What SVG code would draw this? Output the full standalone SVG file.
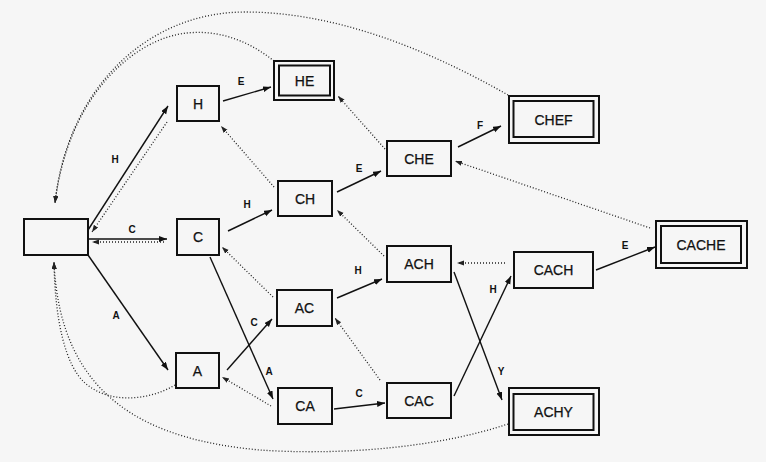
<svg xmlns="http://www.w3.org/2000/svg" width="766" height="462" viewBox="0 0 766 462">
<defs>
<marker id="ah" markerUnits="userSpaceOnUse" markerWidth="9" markerHeight="7" refX="8" refY="3" orient="auto"><path d="M0,0 L8,3 L0,6 z" fill="#111"/></marker>
<marker id="ahd" markerUnits="userSpaceOnUse" markerWidth="8" markerHeight="6" refX="7" refY="2.5" orient="auto"><path d="M0,0 L7,2.5 L0,5 z" fill="#222"/></marker>
<style>
.n{fill:none;stroke:#111;stroke-width:2}
.nt{font-family:"Liberation Sans",Arial,sans-serif;font-size:14px;fill:#111;text-anchor:middle;stroke:#111;stroke-width:0.25}
.s{fill:none;stroke:#111;stroke-width:1.4;marker-end:url(#ah)}
.d{fill:none;stroke:#222;stroke-width:1.3;stroke-dasharray:1 2;marker-end:url(#ahd)}
.l{font-family:"Liberation Sans",Arial,sans-serif;font-size:10px;font-weight:bold;fill:#111;text-anchor:middle}
</style>
</defs>
<rect width="766" height="462" fill="#f6f6f6"/>
<g id="connectors">
<path class="s" d="M88,230 L168,106"/>
<path class="s" d="M88,239 L167,239"/>
<path class="s" d="M88,255 L168,370"/>
<path class="s" d="M223,101 L271,87"/>
<path class="s" d="M228,231 L272,210"/>
<path class="s" d="M337,192 L381,171"/>
<path class="s" d="M458,147 L501,126"/>
<path class="s" d="M337,298 L382,279"/>
<path class="s" d="M596,270 L655,247"/>
<path class="s" d="M454,272 L502,400"/>
<path class="s" d="M454,396 L511,276"/>
<path class="s" d="M210,257 L273,399"/>
<path class="s" d="M227,370 L272,319"/>
<path class="s" d="M334,409 L385,403"/>
<path class="d" d="M167,122 L92,232"/>
<path class="d" d="M164,242 L92,242"/>
<path class="d" d="M274,187 L221,126"/>
<path class="d" d="M385,149 L338,96"/>
<path class="d" d="M650,228 L455,161"/>
<path class="d" d="M384,256 L337,210"/>
<path class="d" d="M273,297 L222,247"/>
<path class="d" d="M505,263 L457,263"/>
<path class="d" d="M271,406 L222,377"/>
<path class="d" d="M380,380 L335,318"/>
<path class="d" d="M508,95 C420,45 330,12 245,12 C150,12 68,85 55,203"/>
<path class="d" d="M274,61 C245,38 215,30 187,33 C135,38 68,95 55,203"/>
<path class="d" d="M508,424 C430,450 330,455 260,450 C150,440 60,400 54,262"/>
<path class="d" d="M175,385 C150,400 110,405 85,383 C65,365 55,320 54,262"/>
<text class="l" x="115" y="163">H</text>
<text class="l" x="132" y="233">C</text>
<text class="l" x="116" y="319">A</text>
<text class="l" x="241" y="85">E</text>
<text class="l" x="247" y="208">H</text>
<text class="l" x="359" y="172">E</text>
<text class="l" x="480" y="129">F</text>
<text class="l" x="358" y="274">H</text>
<text class="l" x="625" y="249">E</text>
<text class="l" x="501" y="375">Y</text>
<text class="l" x="493" y="293">H</text>
<text class="l" x="269" y="375">A</text>
<text class="l" x="254" y="326">C</text>
<text class="l" x="359" y="397">C</text>
</g>
<g id="root"><rect class="n" x="24" y="219" width="64" height="36"/></g>
<g id="H"><rect class="n" x="177" y="86" width="42" height="35"/><text class="nt" x="198" y="108.5">H</text></g>
<g id="HE"><rect class="n" x="274" y="61" width="60" height="39"/><rect class="n" x="279" y="65.5" width="51" height="30"/><text class="nt" x="304.5" y="85.5">HE</text></g>
<g id="C"><rect class="n" x="177" y="219" width="42" height="36"/><text class="nt" x="198" y="242">C</text></g>
<g id="CH"><rect class="n" x="278" y="181" width="54" height="35"/><text class="nt" x="305" y="203.5">CH</text></g>
<g id="CHE"><rect class="n" x="387" y="141" width="64" height="35"/><text class="nt" x="419" y="163.5">CHE</text></g>
<g id="CHEF"><rect class="n" x="509" y="96" width="90" height="47"/><rect class="n" x="513.5" y="101" width="80" height="36"/><text class="nt" x="553.5" y="124.5">CHEF</text></g>
<g id="CACHE"><rect class="n" x="656" y="221" width="91" height="47"/><rect class="n" x="661" y="226" width="80" height="37"/><text class="nt" x="701" y="249.5">CACHE</text></g>
<g id="ACH"><rect class="n" x="387" y="246" width="64" height="36"/><text class="nt" x="419" y="269">ACH</text></g>
<g id="CACH"><rect class="n" x="514" y="252" width="79" height="36"/><text class="nt" x="553.5" y="275">CACH</text></g>
<g id="AC"><rect class="n" x="277" y="290" width="55" height="36"/><text class="nt" x="304.5" y="313">AC</text></g>
<g id="A"><rect class="n" x="176" y="353" width="43" height="35"/><text class="nt" x="197.5" y="375.5">A</text></g>
<g id="CA"><rect class="n" x="278" y="388" width="54" height="36"/><text class="nt" x="305" y="411">CA</text></g>
<g id="CAC"><rect class="n" x="387" y="383" width="64" height="35"/><text class="nt" x="419" y="405.5">CAC</text></g>
<g id="ACHY"><rect class="n" x="509" y="388" width="90" height="47"/><rect class="n" x="513.5" y="394" width="80" height="36"/><text class="nt" x="553.5" y="417">ACHY</text></g>
</svg>
